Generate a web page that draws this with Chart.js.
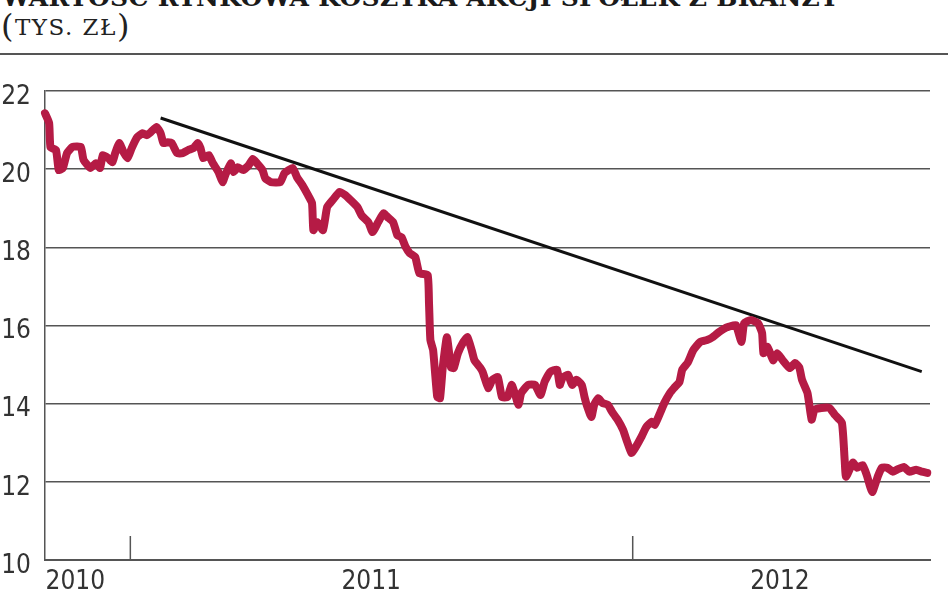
<!DOCTYPE html>
<html lang="pl">
<head>
<meta charset="utf-8">
<title>Wartość rynkowa koszyka akcji</title>
<script src="https://cdn.jsdelivr.net/npm/chart.js@4"></script>
<style>
    body { margin: 0; background: #fff; }
    #wrap { position: relative; width: 948px; height: 593px; overflow: hidden; }
    #title { position: absolute; left: 2px; top: -15px; font: bold 25px 'DejaVu Serif'; color: #1a1a1a; white-space: nowrap; line-height: 25px; letter-spacing: 0.3px; }
    #unit { position: absolute; left: 1px; top: 10px; font: 23px 'DejaVu Serif'; color: #222; letter-spacing: 1.5px; line-height: 32px; }
    #unit span { font-size: 32px; font-weight: 300; vertical-align: -2px; }
    #rule { position: absolute; left: 0; top: 53px; width: 948px; height: 2px; background: #555; }
    canvas { position: absolute; left: 0; top: 0; }
</style>
</head>
<body>
<div id="wrap">
    <div id="title">WARTOŚĆ RYNKOWA KOSZYKA AKCJI SPÓŁEK Z BRANŻY</div>
    <div id="unit"><span>(</span>TYS. ZŁ<span>)</span></div>
    <div id="rule"></div>
    <canvas id="chart" width="948" height="593"></canvas>
</div>
<script>
// dni liczone od 1 stycznia 2010
const days = [
    303, 306, 307, 311, 313, 316, 319, 323, 329, 331,
    336, 340, 343, 345, 349, 352, 354, 357, 360, 363,
    366, 370, 374, 377, 380, 384, 387, 389, 392, 395,
    399, 403, 407, 411, 414, 416, 418, 422, 425, 429,
    432, 434, 438, 440, 443, 447, 451, 454, 457, 461,
    463, 467, 474, 477, 483, 486, 490, 494, 497, 498,
    501, 505, 508, 512, 517, 521, 525, 530, 533, 538,
    541, 545, 549, 552, 556, 559, 562, 565, 568, 572,
    575, 581, 582, 583, 585, 588, 590, 592, 595, 598,
    600, 603, 607, 610, 613, 615, 619, 621, 625, 628,
    632, 635, 639, 642, 644, 647, 649, 654, 659, 663,
    666, 670, 675, 677, 679, 683, 686, 689, 693, 695,
    697, 700, 702, 705, 708, 712, 715, 719, 723, 726,
    729, 731, 734, 736, 740, 744, 746, 750, 753, 757,
    760, 764, 766, 770, 774, 779, 784, 788, 793, 798,
    800, 805, 809, 811, 816, 821, 824, 825, 828, 832,
    835, 839, 844, 848, 851, 853, 857, 860, 862, 867,
    873, 877, 882, 884, 885, 890, 893, 897, 900, 904,
    908, 911, 915, 919, 922, 927, 931, 936, 940, 944
];

const values = [
    21.43, 21.18, 20.56, 20.49, 19.98, 20.03, 20.41, 20.57, 20.57, 20.24,
    20.03, 20.15, 20.03, 20.36, 20.28, 20.18, 20.41, 20.67, 20.44, 20.28,
    20.54, 20.82, 20.92, 20.87, 20.95, 21.08, 20.92, 20.67, 20.69, 20.67,
    20.41, 20.41, 20.49, 20.54, 20.67, 20.54, 20.28, 20.36, 20.15, 19.93,
    19.67, 19.85, 20.15, 19.93, 20.05, 19.98, 20.10, 20.26, 20.15, 19.98,
    19.77, 19.67, 19.67, 19.90, 20.03, 19.80, 19.59, 19.34, 19.13, 18.44,
    18.64, 18.44, 19.03, 19.21, 19.42, 19.34, 19.21, 19.03, 18.82, 18.64,
    18.39, 18.64, 18.87, 18.77, 18.64, 18.31, 18.26, 18.01, 17.85, 17.75,
    17.34, 17.29, 16.57, 15.63, 15.37, 14.17, 14.14, 14.93, 15.70, 14.93,
    14.91, 15.29, 15.58, 15.70, 15.37, 15.11, 14.93, 14.81, 14.40, 14.61,
    14.68, 14.17, 14.17, 14.48, 14.30, 13.97, 14.27, 14.48, 14.48, 14.22,
    14.56, 14.81, 14.87, 14.48, 14.66, 14.74, 14.48, 14.61, 14.48, 14.17,
    13.92, 13.66, 13.97, 14.14, 14.02, 13.97, 13.79, 13.59, 13.33, 13.02,
    12.74, 12.82, 13.00, 13.13, 13.41, 13.54, 13.46, 13.77, 14.02, 14.27,
    14.40, 14.56, 14.87, 15.05, 15.37, 15.58, 15.63, 15.70, 15.84, 15.95,
    15.97, 16.01, 15.58, 16.06, 16.14, 16.06, 15.81, 15.29, 15.45, 15.11,
    15.29, 15.11, 14.91, 15.04, 14.93, 14.61, 14.27, 13.59, 13.84, 13.89,
    13.89, 13.71, 13.51, 12.56, 12.13, 12.49, 12.36, 12.43, 12.18, 11.74,
    12.13, 12.36, 12.36, 12.26, 12.31, 12.38, 12.26, 12.31, 12.26, 12.23
];

// linia trendu
const trendDays = [387, 940];
const trendValues = [21.31, 14.82];

// opisy osi
const yearLabels = ['2010', '2011', '2012'];
const yearLabelDays = [325, 540, 837];
const yearStartDays = [365, 730];
const yTicks = [10, 12, 14, 16, 18, 20, 22];

const tickFont = { family: "'Liberation Sans Narrow', 'DejaVu Sans Condensed'", size: 26 };

const yearMarks = {
    id: 'yearMarks',
    beforeDatasetsDraw(chart) {
        const ctx = chart.ctx;
        const x = chart.scales.x;
        const bottom = chart.chartArea.bottom;
        ctx.save();
        ctx.strokeStyle = '#555';
        ctx.lineWidth = 1.5;
        yearStartDays.forEach(function(d) {
            const px = x.getPixelForValue(d);
            ctx.beginPath();
            ctx.moveTo(px, bottom);
            ctx.lineTo(px, bottom - 24);
            ctx.stroke();
        });
        ctx.restore();
    }
};

const ctx = document.getElementById('chart').getContext('2d');
new Chart(ctx, {
    type: 'line',
    data: {
        datasets: [
            {
                data: days.map(function(d, i) { return { x: d, y: values[i] }; }),
                borderColor: '#b51b45',
                borderWidth: 8,
                borderJoinStyle: 'round',
                borderCapStyle: 'round',
                pointRadius: 0,
                tension: 0.15,
                clip: false
            },
            {
                data: trendDays.map(function(d, i) { return { x: d, y: trendValues[i] }; }),
                borderColor: '#111',
                borderWidth: 3,
                pointRadius: 0,
                clip: false
            }
        ]
    },
    options: {
        responsive: false,
        animation: false,
        layout: { padding: { top: 91, right: 18, left: 0, bottom: 0 } },
        plugins: {
            legend: { display: false },
            tooltip: { enabled: false }
        },
        scales: {
            x: {
                type: 'linear',
                min: 303,
                max: 946,
                afterFit: function(scale) { scale.height = 33; },
                afterBuildTicks: function(scale) {
                    scale.ticks = yearLabelDays.map(function(d) { return { value: d }; });
                },
                ticks: {
                    autoSkip: false,
                    maxRotation: 0,
                    padding: 7,
                    color: '#333',
                    font: tickFont,
                    callback: function(v, i) { return yearLabels[i]; }
                },
                grid: { display: false, drawTicks: false },
                border: { display: true, color: '#555', width: 2 }
            },
            y: {
                min: 10,
                max: 22,
                afterFit: function(scale) { scale.width = 45; },
                afterBuildTicks: function(scale) {
                    scale.ticks = yTicks.map(function(v) { return { value: v }; });
                },
                ticks: {
                    padding: 14,
                    labelOffset: 6,
                    color: '#333',
                    font: tickFont
                },
                grid: { color: '#555', lineWidth: 1.5, drawTicks: false },
                border: { display: true, color: '#555', width: 1.5 }
            }
        }
    },
    plugins: [yearMarks]
});
</script>
</body>
</html>
